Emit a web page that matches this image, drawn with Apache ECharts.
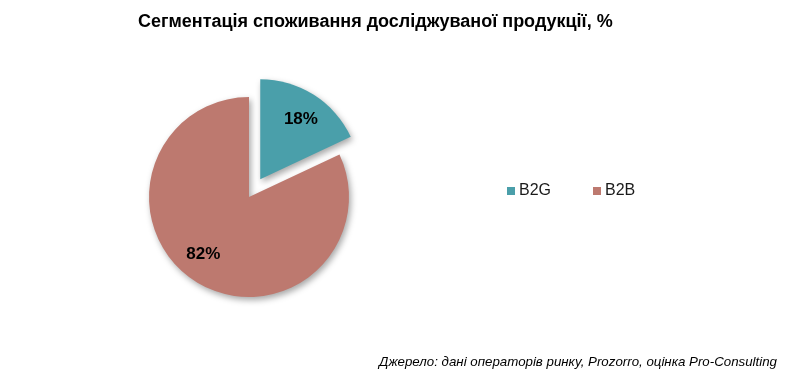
<!DOCTYPE html>
<html>
 <head>
  <title>Сегментація споживання</title>
  <script src="https://cdn.jsdelivr.net/npm/echarts@6/dist/echarts.min.js"></script>
  <style>
    html, body, #container {
    width: 100%;
    height: 100%;
    margin: 0;
    padding: 0;
    background: #fff;
    }
  </style>
 </head>
  <body>
    <div id="container"></div>
    <script>
      const categories = ['B2G', 'B2B'];
      const values = [18, 82];
      const colors = ['#4A9FAA', '#BD796F'];

      const pieData = categories.map((name, i) => ({
        name: name,
        value: values[i],
        selected: i === 0,
        itemStyle: { color: colors[i] }
      }));

      var chartDom = document.getElementById('container');
      var myChart = echarts.init(chartDom);
      var option;

      option = {
        animation: false,
        title: {
          text: 'Сегментація споживання досліджуваної продукції, %',
          left: 133,
          top: 8,
          textStyle: { fontFamily: 'Liberation Sans', fontSize: 18, fontWeight: 'bold', color: '#000' }
        },
        graphic: [{
          type: 'text',
          right: 10,
          top: 356,
          style: {
            text: 'Джерело: дані операторів ринку, Prozorro, оцінка Pro-Consulting',
            font: 'italic 13.3px "Liberation Sans"',
            fill: '#000'
          }
        }],
        legend: {
          data: categories,
          left: 502,
          top: 178,
          icon: 'rect',
          itemWidth: 8,
          itemHeight: 8,
          itemGap: 42,
          textStyle: { fontFamily: 'Liberation Sans', fontSize: 16, color: '#1a1a1a', padding: [0, 0, 0, -1] }
        },
        series: [
          {
            type: 'pie',
            center: [249, 197],
            radius: [0, 100],
            startAngle: 90,
            selectedMode: 'single',
            selectedOffset: 21,
            emphasis: { disabled: true },
            itemStyle: {
              shadowBlur: 6,
              shadowOffsetX: 2,
              shadowOffsetY: 3,
              shadowColor: 'rgba(0,0,0,0.35)'
            },
            label: { show: false },
            labelLine: { show: false },
            data: pieData
          },
          {
            type: 'pie',
            silent: true,
            center: [249, 197],
            radius: [0, 142],
            startAngle: 90,
            selectedMode: 'single',
            selectedOffset: 21,
            legendHoverLink: false,
            itemStyle: { color: 'rgba(0,0,0,0)' },
            label: {
              show: true,
              position: 'inside',
              formatter: '{c}%',
              fontFamily: 'Liberation Sans',
              fontSize: 17,
              fontWeight: 'bold',
              color: '#000'
            },
            labelLine: { show: false },
            labelLayout: function (p) {
              return p.dataIndex === 0 ? { dx: 1, dy: 3 } : { dx: -6, dy: -5 };
            },
            data: categories.map((name, i) => ({ name: name, value: values[i], selected: i === 0 }))
          }
        ]
      };

      option && myChart.setOption(option);
    </script>
  </body>
</html>
